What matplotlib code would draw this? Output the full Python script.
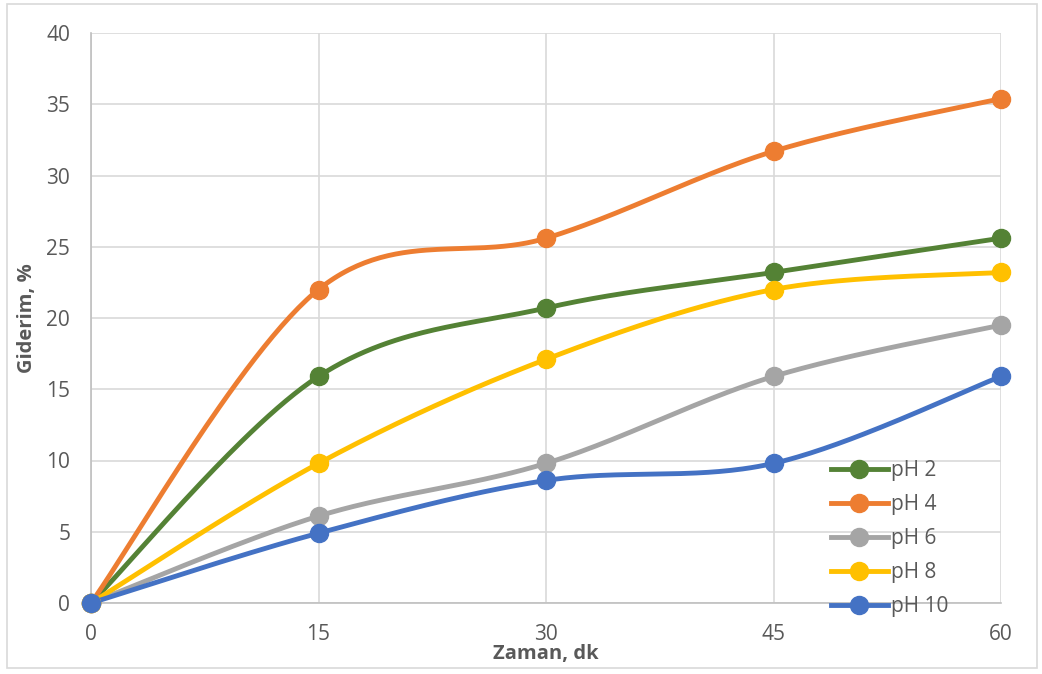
import numpy as np
import matplotlib
matplotlib.use("Agg")
import matplotlib.pyplot as plt
from matplotlib.patches import Rectangle

time_min = [0, 15, 30, 45, 60]
ph2 = [0, 15.9, 20.7, 23.2, 25.6]
ph4 = [0, 22.0, 25.6, 31.7, 35.4]
ph6 = [0, 6.1, 9.8, 15.9, 19.5]
ph8 = [0, 9.8, 17.1, 22.0, 23.2]
ph10 = [0, 4.9, 8.6, 9.8, 15.9]
labels = ["pH 2", "pH 4", "pH 6", "pH 8", "pH 10"]
colors = ["#548235", "#ED7D31", "#A5A5A5", "#FFC000", "#4472C4"]

plt.rcParams['font.family'] = ['Open Sans', 'DejaVu Sans']


def smooth(x, y, n=60):
    x = np.asarray(x, float)
    y = np.asarray(y, float)
    P = np.column_stack([x, y])
    out = []
    for i in range(len(P) - 1):
        p0 = P[i - 1] if i > 0 else P[i]
        p1 = P[i]
        p2 = P[i + 1]
        p3 = P[i + 2] if i + 2 < len(P) else P[i + 1]
        c1 = p1 + (p2 - p0) / 6.0
        c2 = p2 - (p3 - p1) / 6.0
        t = np.linspace(0, 1, n)[:, None]
        seg = ((1 - t) ** 3) * p1 + 3 * ((1 - t) ** 2) * t * c1 + 3 * (1 - t) * t ** 2 * c2 + t ** 3 * p2
        out.append(seg if i == 0 else seg[1:])
    s = np.vstack(out)
    return s[:, 0], s[:, 1]


fig = plt.figure(figsize=(10.42, 6.74), dpi=100)
ax = fig.add_axes([91 / 1042, 1 - 603 / 674, 910 / 1042, 570 / 674])

series = [ph2, ph4, ph6, ph8, ph10]
handles = []
for vals, lab, col in zip(series, labels, colors):
    sx, sy = smooth(time_min, vals)
    ax.plot(sx, sy, color=col, lw=3.5, solid_capstyle='round', zorder=3, clip_on=False)
    ax.plot(time_min, vals, 'o', color=col, ms=13, zorder=4, clip_on=False)
    h, = ax.plot([], [], color=col, lw=3.5, marker='o', ms=13, label=lab)
    handles.append(h)

ax.set_xlim(0, 60)
ax.set_ylim(0, 40)
ax.set_xticks(time_min)
ax.set_yticks(np.arange(0, 41, 5))
ax.grid(True, color='#D9D9D9', lw=1.2, zorder=0)
for s in ['top', 'right']:
    ax.spines[s].set_visible(False)
for s in ['left', 'bottom']:
    ax.spines[s].set_color('#BFBFBF')
    ax.spines[s].set_linewidth(1.2)
ax.tick_params(length=0, labelsize=15, colors='#595959', pad=15)
ax.set_axisbelow(True)

fig.text(546 / 1042, 1 - 654 / 674, "Zaman, dk", fontsize=14.5, fontweight='bold',
         color='#595959', ha='center', va='center')
fig.text(27 / 1042, 1 - 318 / 674, "Giderim, %", fontsize=14.5, fontweight='bold',
         color='#595959', ha='center', va='center', rotation=90)

leg = fig.legend(handles=handles, loc='upper left', bbox_to_anchor=(823 / 1042, 1 - 452 / 674),
                 frameon=False, fontsize=15, handlelength=2.7, handletextpad=0.15,
                 labelspacing=0.62, borderaxespad=0)
for t in leg.get_texts():
    t.set_color('#595959')

fig.patches.append(Rectangle((7 / 1042, 6 / 674), 1030 / 1042, 664 / 674, transform=fig.transFigure,
                             fill=False, edgecolor='#D9D9D9', lw=1.2))

fig.savefig("out.png", dpi=100)
